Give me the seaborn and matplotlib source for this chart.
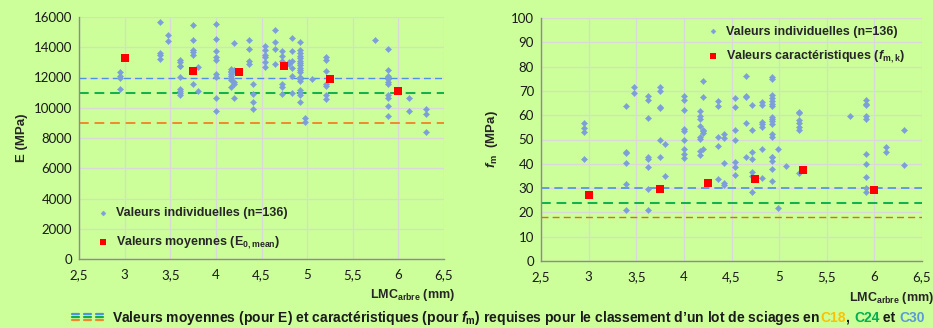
import matplotlib
matplotlib.use("Agg")
import matplotlib.pyplot as plt
import seaborn as sns
import pandas as pd
from matplotlib.lines import Line2D

# ---------------- data ----------------
# Left chart: individual modulus E (MPa) vs LMC
e_x = ([2.95]*4 + [3.39]*4 + [3.48]*2 + [3.61]*9 + [3.75]*6 + [3.80]*2 + [4.0]*9 +
       [4.17]*8 + [4.20]*5 + [4.36]*4 + [4.41]*4 + [4.54]*6 + [4.65]*4 + [4.72]*6 +
       [4.80]*2 + [4.83]*6 + [4.92]*18 + [4.98]*2 + [5.05] + [5.21]*7 + [5.74] +
       [5.89]*11 + [6.12]*2 + [6.30]*3)
e_y = [12350, 12100, 12000, 11250,
       15700, 13600, 13500, 13200,
       14800, 14400,
       13190, 13010, 12790, 12750, 12020, 11210, 11100, 10950, 10860,
       15470, 14500, 13850, 13670, 13520, 11600,
       12700, 11080,
       15540, 14550, 13740, 13340, 13190, 12200, 12040, 10620, 9800,
       12590, 12460, 12370, 12200, 12090, 11960, 11850, 11360,
       14260, 12480, 11690, 11580, 10620,
       14500, 13910, 13120, 12860,
       11580, 10920, 10370, 9910,
       14070, 13850, 13520, 13340, 13010, 12700,
       15120, 14330, 13890, 12900,
       13740, 13450, 13080, 11540, 11360, 10880,
       13010, 12860,
       14610, 13740, 13060, 12640, 12090, 10990,
       14330, 13800, 13630, 13450, 13300, 13120, 12970, 12810, 12640, 12480,
       12350, 12040, 11870, 11760, 11170, 10990, 10840, 10400,
       9340, 9060,
       11910,
       13340, 13140, 12460, 11540, 11470, 10810, 10590,
       14460,
       13910, 12480, 12130, 12020, 11870, 11690, 11540, 10840, 10660, 10110, 9450,
       10620, 9780,
       9890, 9560, 8420]

# Right chart: individual bending strength fm (MPa) vs LMC
f_x = ([2.95]*4 + [3.39]*6 + [3.48]*2 + [3.62]*8 + [3.75]*6 + [3.80]*2 + [4.0]*9 +
       [4.17]*8 + [4.20]*6 + [4.36]*5 + [4.42]*5 + [4.54]*7 + [4.65]*5 + [4.72]*7 +
       [4.82]*7 + [4.93]*18 + [4.99]*2 + [5.07] + [5.21]*7 + [5.74] + [5.91]*10 +
       [6.12]*2 + [6.31]*2)
f_y = [56.8, 54.8, 52.9, 41.9,
       63.6, 45.0, 44.5, 40.5, 31.8, 20.8,
       71.5, 69.3,
       68.1, 66.3, 59.0, 43.0, 41.8, 38.8, 29.6, 21.0,
       71.4, 70.0, 63.3, 62.9, 50.0, 43.0,
       48.0, 34.8,
       67.8, 66.3, 62.3, 54.4, 53.7, 50.0, 46.0, 44.0, 42.5,
       61.8, 59.6, 58.4, 55.6, 51.0, 50.3, 45.2, 43.7,
       74.2, 67.4, 54.0, 53.3, 52.7, 45.9,
       65.8, 63.6, 51.0, 47.5, 33.6,
       52.3, 50.5, 40.4, 31.9, 31.1,
       67.1, 63.3, 54.1, 49.6, 40.7, 38.5, 35.2,
       76.3, 68.1, 67.4, 56.7, 42.9,
       64.0, 54.1, 44.8, 42.1, 36.8, 34.9, 28.5,
       65.3, 64.4, 57.1, 56.2, 55.3, 46.2, 34.1,
       75.6, 74.9, 68.5, 67.1, 66.0, 64.7, 63.6, 59.2, 58.5, 57.5, 56.4, 52.3,
       51.2, 42.7, 42.9, 41.2, 37.7, 33.0,
       46.2, 21.9,
       39.3,
       61.5, 61.1, 58.1, 56.7, 55.3, 54.0, 36.3,
       59.5,
       66.4, 64.7, 64.0, 59.7, 58.4, 44.1, 40.1, 34.7, 30.1, 28.4,
       46.8, 44.7,
       54.0, 39.7]

# Mean / characteristic values per class
mean_x = [3.0, 3.75, 4.25, 4.75, 5.25, 6.0]
e_mean = [13300, 12420, 12370, 12730, 11910, 11140]
fmk = [27.0, 29.5, 32.3, 33.6, 37.3, 29.2]

# Required values for C18, C24, C30
classes = ["C18", "C24", "C30"]
e_req = [9000, 11000, 12000]
f_req = [18, 24, 30]

x_ticks = [2.5, 3, 3.5, 4, 4.5, 5, 5.5, 6, 6.5]
x_ticklabels = ["2,5", "3", "3,5", "4", "4,5", "5", "5,5", "6", "6,5"]

# ---------------- style ----------------
BG = "#CCFF99"
BLUE_PT = "#7C9FDC"
CLS_COL = {"C18": "#F0892E", "C24": "#0DB04B", "C30": "#4F8FE6"}
LBL_COL = {"C18": "#FFC000", "C24": "#00B050", "C30": "#5B9BD5"}
BOLD_FAM = ["Liberation Sans", "DejaVu Sans"]

sns.set_theme(style="white")
plt.rcParams["font.family"] = ["Lato", "DejaVu Sans"]
plt.rcParams["mathtext.fontset"] = "custom"
plt.rcParams["mathtext.rm"] = "Liberation Sans:bold"
plt.rcParams["mathtext.it"] = "Liberation Sans:bold:italic"
plt.rcParams["mathtext.bf"] = "Liberation Sans:bold"

fig = plt.figure(figsize=(9.33, 3.28), dpi=100, facecolor=BG)
axL = fig.add_axes([79/933, 1-259/328, 365/933, 242/328])
axR = fig.add_axes([541/933, 1-261/328, 381/933, 243/328])

dfE = pd.DataFrame({"x": e_x, "y": e_y})
dfEm = pd.DataFrame({"x": mean_x, "y": e_mean})
dfF = pd.DataFrame({"x": f_x, "y": f_y})
dfFm = pd.DataFrame({"x": mean_x, "y": fmk})

def style_axes(ax, ylim, yticks):
    ax.set_facecolor(BG)
    ax.set_xlim(2.5, 6.5)
    ax.set_ylim(*ylim)
    ax.set_xticks(x_ticks)
    ax.set_xticklabels(x_ticklabels)
    ax.set_yticks(yticks)
    ax.grid(True, color="#D9D9D9", linewidth=0.9)
    ax.set_axisbelow(True)
    for s in ["top", "right"]:
        ax.spines[s].set_visible(False)
    for s in ["left", "bottom"]:
        ax.spines[s].set_color("#8C8C8C")
        ax.spines[s].set_linewidth(1.0)
    ax.tick_params(axis="both", labelsize=9.5, colors="#8C8C8C", labelcolor="#1a1a1a",
                   length=3, direction="out", pad=2)
    ax.tick_params(axis="x", pad=4)

leg_prop = {"weight": "bold", "size": 9, "family": BOLD_FAM}

# Left chart
style_axes(axL, (0, 16000), list(range(0, 16001, 2000)))
lwL = {"C18": 1.4, "C24": 1.4, "C30": 1.0}
for c, v in zip(classes, e_req):
    axL.axhline(v, color=CLS_COL[c], linestyle=(0, (5, 3)), linewidth=lwL[c], zorder=1)
sns.scatterplot(data=dfE, x="x", y="y", ax=axL, marker="D", s=10, color=BLUE_PT,
                edgecolor=BLUE_PT, linewidth=0.3, label="Valeurs individuelles (n=136)", zorder=3)
sns.scatterplot(data=dfEm, x="x", y="y", ax=axL, marker="s", s=32, color="#FF0000",
                edgecolor="#FF0000", linewidth=0, label=r"Valeurs moyennes (E$_{\mathrm{0,mean}}$)", zorder=4)
axL.set_ylabel("E (MPa)", fontsize=9.5, fontweight="bold", labelpad=4, family=BOLD_FAM)
axL.set_xlabel(r"LMC$_{\mathrm{arbre}}$ (mm)", fontsize=9, fontweight="bold", family=BOLD_FAM)
axL.xaxis.set_label_coords(1.03, -0.115)
axL.xaxis.label.set_horizontalalignment("right")
legL = axL.legend(loc="lower left", bbox_to_anchor=(0.0, -0.015), frameon=False,
                  prop=leg_prop, handletextpad=0.05,
                  labelspacing=1.25, markerscale=0.8)

# Right chart
style_axes(axR, (0, 100), list(range(0, 101, 10)))
lwR = {"C18": 1.0, "C24": 1.4, "C30": 1.2}
for c, v in zip(classes, f_req):
    col = "#E26B0A" if c == "C18" else CLS_COL[c]
    axR.axhline(v, color=col, linestyle=(0, (5, 3)), linewidth=lwR[c], zorder=1)
sns.scatterplot(data=dfF, x="x", y="y", ax=axR, marker="D", s=10, color=BLUE_PT,
                edgecolor=BLUE_PT, linewidth=0.3, label="Valeurs individuelles (n=136)", zorder=3)
sns.scatterplot(data=dfFm, x="x", y="y", ax=axR, marker="s", s=32, color="#FF0000",
                edgecolor="#FF0000", linewidth=0, label=r"Valeurs caractéristiques ($f_{\mathrm{m,k}}$)", zorder=4)
axR.set_ylabel(r"$f_{\mathrm{m}}$  (MPa)", fontsize=9.5, fontweight="bold", labelpad=8, family=BOLD_FAM)
axR.set_xlabel(r"LMC$_{\mathrm{arbre}}$ (mm)", fontsize=9, fontweight="bold", family=BOLD_FAM)
axR.xaxis.set_label_coords(1.03, -0.12)
axR.xaxis.label.set_horizontalalignment("right")
legR = axR.legend(loc="upper left", bbox_to_anchor=(0.39, 1.015), frameon=False,
                  prop=leg_prop, handletextpad=0.05,
                  labelspacing=0.85, markerscale=0.8)

# Bottom note: coloured triple dashes + text
y0 = 1 - 322/328
for i in range(3):
    x0 = (72 + i*12) / 933
    for j, c in enumerate(["C30", "C24", "C18"]):
        fig.add_artist(Line2D([x0, x0 + 7/933], [y0 + (8 - j*3)/328]*2,
                              color=CLS_COL[c], linewidth=1.6,
                              transform=fig.transFigure))
txt_parts = [(r"Valeurs moyennes (pour E) et caractéristiques (pour $f_{\mathrm{m}}$) requises pour le classement d’un lot de sciages en ", "#1a1a1a"),
             ("C18", LBL_COL["C18"]), (", ", "#1a1a1a"), ("C24", LBL_COL["C24"]),
             (" et ", "#1a1a1a"), ("C30", LBL_COL["C30"])]
fig.canvas.draw()
renderer = fig.canvas.get_renderer()
xpos = 112 / 933
for t, col in txt_parts:
    tx = fig.text(xpos, y0, t, color=col, fontsize=10, fontweight="bold",
                  ha="left", va="baseline", family=BOLD_FAM)
    bb = tx.get_window_extent(renderer=renderer)
    xpos += bb.width / fig.bbox.width

fig.savefig("out.png", dpi=100, facecolor=BG)
